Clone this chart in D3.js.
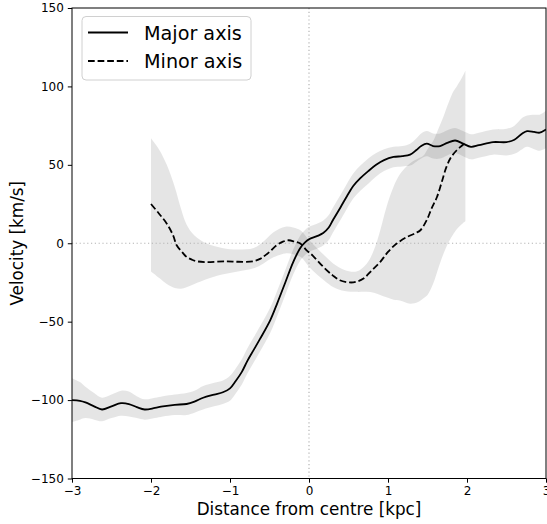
<!DOCTYPE html>
<html>
<head>
<meta charset="utf-8">
<script src="https://cdn.jsdelivr.net/npm/d3@7"></script>
<style>
  html, body { margin: 0; padding: 0; background: #fff; }
  svg { display: block; font-family: "DejaVu Sans", sans-serif; }
</style>
</head>
<body>
<svg id="chart" width="547" height="524"></svg>
<script>
// ---- Data ----
const xTicks = [-3, -2, -1, 0, 1, 2, 3];
const yTicks = [-150, -100, -50, 0, 50, 100, 150];
const seriesNames = ["Major axis", "Minor axis"];

const majorX = [-3.0, -2.9, -2.83, -2.72, -2.62, -2.5, -2.38, -2.28, -2.18, -2.08, -1.95, -1.85, -1.7, -1.55, -1.45, -1.34, -1.2, -1.09, -1.0, -0.93, -0.85, -0.78, -0.7, -0.62, -0.49, -0.4, -0.3, -0.2, -0.11, -0.05, 0.0, 0.1, 0.18, 0.25, 0.3, 0.4, 0.48, 0.56, 0.65, 0.75, 0.85, 0.95, 1.07, 1.18, 1.28, 1.36, 1.42, 1.49, 1.57, 1.66, 1.75, 1.85, 1.95, 2.05, 2.15, 2.33, 2.5, 2.6, 2.7, 2.76, 2.85, 2.92, 3.0];
const majorV = [-100, -100.5, -101.5, -104, -106, -104, -102, -102.5, -104.5, -106, -105, -104, -103, -102.5, -101, -98.5, -96.5, -95, -92.5, -88, -82, -75, -68, -61, -49, -38, -25, -12, -3, 0.5, 2.5, 4.5, 6.5, 10, 14.5, 23, 30, 36.5, 41.5, 46, 50, 53, 55, 55.5, 56.5, 59.5, 62, 63.5, 62, 62, 64, 65.5, 63.5, 61.5, 62.5, 64.5, 64.5, 66, 70, 71.5, 71, 70.5, 72.5];
const majorErr = [14, 12, 10, 8.5, 7.5, 7.5, 8, 8, 7, 6.5, 6.5, 6.5, 6.5, 7, 7, 7.5, 7.5, 7.5, 8, 8, 8, 8, 8, 8, 8, 8, 8, 8, 8, 8, 8, 8, 8, 8, 8, 8, 8, 8, 8, 8, 7.5, 7, 6.5, 6.5, 7, 7.5, 8, 8, 8, 8, 8, 8, 8, 8, 8, 8, 8.5, 9, 10, 10, 11, 11.5, 12];

const minorX = [-2.0, -1.9, -1.8, -1.72, -1.675, -1.6, -1.55, -1.48, -1.42, -1.3, -1.04, -0.9, -0.705, -0.62, -0.58, -0.5, -0.41, -0.33, -0.26, -0.18, -0.11, -0.03, 0.05, 0.18, 0.3, 0.39, 0.52, 0.6, 0.69, 0.8, 0.9, 1.0, 1.11, 1.24, 1.35, 1.41, 1.49, 1.55, 1.62, 1.68, 1.74, 1.8, 1.87, 1.93, 1.97];
const minorV = [25, 19, 12.5, 5, -1.3, -6, -8.7, -10.5, -11.5, -12, -11.5, -11.8, -11.5, -10, -8.7, -5.5, -1.3, 1, 1.9, 1, -0.2, -4.5, -8, -15, -20.5, -23.6, -25, -24.5, -22.5, -17, -12, -5.5, -0.2, 4, 6.5, 8.3, 14.7, 22, 29.5, 39, 48.7, 55, 59.3, 62, 63.6];

const minorBandX = [-2.0, -1.9, -1.8, -1.7, -1.62, -1.55, -1.45, -1.3, -1.1, -0.9, -0.7, -0.58, -0.45, -0.3, -0.2, -0.1, 0.0, 0.1, 0.2, 0.31, 0.45, 0.6, 0.73, 0.82, 0.9, 0.98, 1.07, 1.15, 1.28, 1.38, 1.45, 1.5, 1.57, 1.63, 1.7, 1.77, 1.83, 1.87, 1.93, 1.98];
const minorLo = [-18, -22, -26, -28.5, -29, -28, -26, -23, -20, -18, -16, -13, -9, -6.5, -7, -9, -15, -20, -24, -28, -30.5, -31, -31, -31.5, -33, -34.5, -36, -36.5, -38.5, -37.5, -35, -33, -26, -17, -7, 1, 6, 9, 12, 14];
const minorHi = [67, 60, 50, 36, 22, 12, 5, 0, -3, -4, -3, 1, 7, 10.5, 10, 8, 2, -3, -8, -13, -17, -18, -13, -4.5, 8, 23, 36, 44, 51, 54, 56, 60, 65, 72, 80.5, 90, 97, 100, 105, 110];

// ---- Layout ----
const svg = d3.select("#chart");
const L = 72, R = 546, T = 8, B = 478.5;
const x = d3.scaleLinear().domain([-3, 3]).range([L, R]);
const y = d3.scaleLinear().domain([-150, 150]).range([B, T]);
const fmt = d => (d < 0 ? "\u2212" + Math.abs(d) : String(d));

svg.append("defs").append("clipPath").attr("id", "clip")
  .append("rect").attr("x", L).attr("y", T).attr("width", R - L).attr("height", B - T);

const plot = svg.append("g").attr("clip-path", "url(#clip)");

const curve = d3.curveCatmullRom.alpha(0.5);

const majorData = majorX.map((d, i) => ({ x: d, v: majorV[i], e: majorErr[i] }));
const minorBand = minorBandX.map((d, i) => ({ x: d, lo: minorLo[i], hi: minorHi[i] }));
const minorData = minorX.map((d, i) => ({ x: d, v: minorV[i] }));

// bands
plot.append("path")
  .datum(majorData)
  .attr("fill", "#000").attr("fill-opacity", 0.1)
  .attr("d", d3.area().curve(curve).x(d => x(d.x)).y0(d => y(d.v - d.e)).y1(d => y(d.v + d.e)));

plot.append("path")
  .datum(minorBand)
  .attr("fill", "#000").attr("fill-opacity", 0.1)
  .attr("d", d3.area().curve(curve).x(d => x(d.x)).y0(d => y(d.lo)).y1(d => y(d.hi)));

// dotted zero lines
plot.append("line")
  .attr("x1", L).attr("x2", R).attr("y1", y(0)).attr("y2", y(0))
  .attr("stroke", "#b4b4b4").attr("stroke-width", 1.2).attr("stroke-dasharray", "1.2,2.6");
plot.append("line")
  .attr("x1", x(0)).attr("x2", x(0)).attr("y1", T).attr("y2", B)
  .attr("stroke", "#b4b4b4").attr("stroke-width", 1.2).attr("stroke-dasharray", "1.2,2.6");

// lines
plot.append("path")
  .datum(majorData)
  .attr("fill", "none").attr("stroke", "#000").attr("stroke-width", 1.8)
  .attr("stroke-linejoin", "round")
  .attr("d", d3.line().curve(curve).x(d => x(d.x)).y(d => y(d.v)));

plot.append("path")
  .datum(minorData)
  .attr("fill", "none").attr("stroke", "#000").attr("stroke-width", 1.8)
  .attr("stroke-dasharray", "6.7,2.9")
  .attr("d", d3.line().curve(curve).x(d => x(d.x)).y(d => y(d.v)));

// axes
const xAxis = svg.append("g").attr("transform", `translate(0,${B})`)
  .call(d3.axisBottom(x).tickValues(xTicks).tickFormat(fmt).tickSizeInner(4.2).tickSizeOuter(0).tickPadding(4));
const yAxis = svg.append("g").attr("transform", `translate(${L},0)`)
  .call(d3.axisLeft(y).tickValues(yTicks).tickFormat(fmt).tickSizeInner(4.2).tickSizeOuter(0).tickPadding(4));
[xAxis, yAxis].forEach(a => {
  a.select(".domain").remove();
  a.selectAll("text").attr("font-family", "DejaVu Sans").attr("font-size", 12).attr("fill", "#000");
  a.selectAll("line").attr("stroke", "#000").attr("stroke-width", 1);
});

// frame
svg.append("rect").attr("x", L).attr("y", T).attr("width", R - L).attr("height", B - T)
  .attr("fill", "none").attr("stroke", "#000").attr("stroke-width", 1);

// axis labels
svg.append("text").attr("x", (L + R) / 2).attr("y", 515)
  .attr("text-anchor", "middle").attr("font-size", 16.8).attr("fill", "#000")
  .text("Distance from centre [kpc]");
svg.append("text")
  .attr("transform", `translate(23,${(T + B) / 2}) rotate(-90)`)
  .attr("text-anchor", "middle").attr("font-size", 16.8).attr("fill", "#000")
  .text("Velocity [km/s]");

// legend
const lg = svg.append("g");
lg.append("rect").attr("x", 82).attr("y", 16.5).attr("width", 169).attr("height", 63.5)
  .attr("rx", 4).attr("fill", "#fff").attr("fill-opacity", 0.8)
  .attr("stroke", "#d0d0d0").attr("stroke-width", 1);
const dashes = [null, "6.7,2.9"];
seriesNames.forEach((name, i) => {
  const yy = 32.5 + i * 28.5;
  lg.append("line").attr("x1", 88).attr("x2", 128).attr("y1", yy).attr("y2", yy)
    .attr("stroke", "#000").attr("stroke-width", 1.8)
    .attr("stroke-dasharray", dashes[i]);
  lg.append("text").attr("x", 144).attr("y", yy + 7)
    .attr("font-size", 19.2).attr("fill", "#000").text(name);
});
</script>
</body>
</html>
